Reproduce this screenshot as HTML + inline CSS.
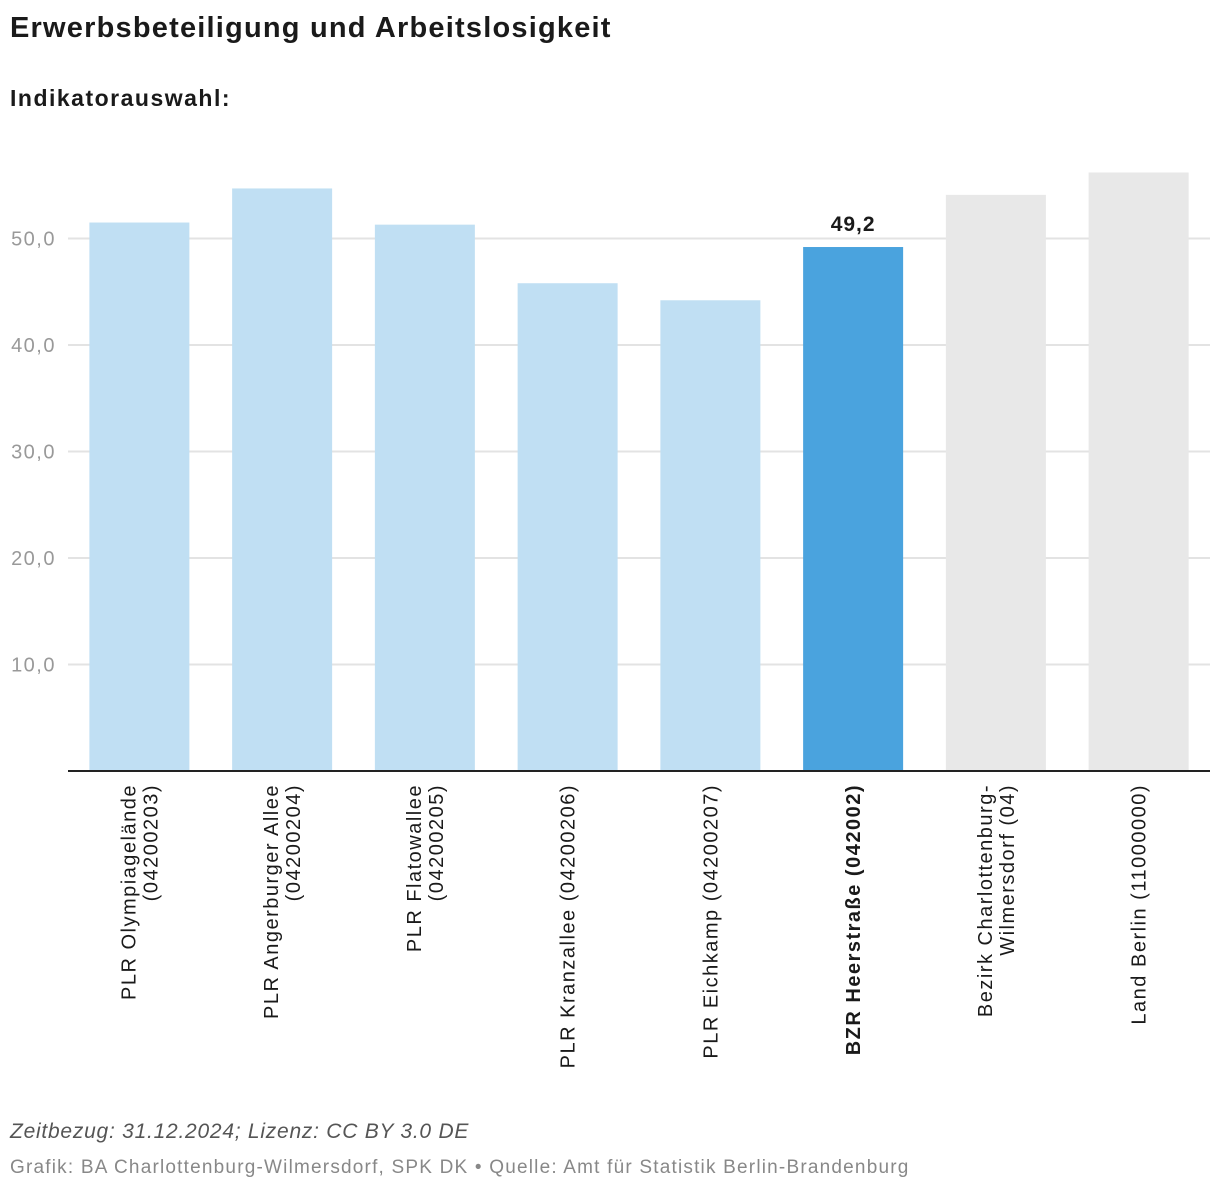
<!DOCTYPE html>
<html><head><meta charset="utf-8"><style>
body{margin:0;width:1220px;height:1194px;background:#fff;font-family:"Liberation Sans",sans-serif;overflow:hidden;position:relative}
.t{position:absolute;left:10px;margin:0}
</style></head><body>
<h1 class="t" style="top:12px;font-size:29px;font-weight:bold;color:#1a1a1a;letter-spacing:1.2px">Erwerbsbeteiligung und Arbeitslosigkeit</h1>
<div class="t" style="top:85px;font-size:23px;font-weight:bold;color:#1a1a1a;letter-spacing:1.5px">Indikatorauswahl:</div>
<svg id="c" width="1220" height="1100" style="position:absolute;left:0;top:0"></svg>
<div class="t" style="top:1120px;font-size:21px;font-style:italic;color:#555;letter-spacing:0.75px">Zeitbezug: 31.12.2024; Lizenz: CC BY 3.0 DE</div>
<div class="t" style="top:1157px;font-size:19px;color:#888;letter-spacing:1.2px">Grafik: BA Charlottenburg-Wilmersdorf, SPK DK • Quelle: Amt für Statistik Berlin-Brandenburg</div>
<script>
const categories=[["PLR Olympiagelände","(04200203)"],["PLR Angerburger Allee","(04200204)"],["PLR Flatowallee","(04200205)"],["PLR Kranzallee (04200206)"],["PLR Eichkamp (04200207)"],["BZR Heerstraße (042002)"],["Bezirk Charlottenburg-","Wilmersdorf (04)"],["Land Berlin (11000000)"]];
const values=[51.5,54.7,51.3,45.8,44.2,49.2,54.1,56.2];
const kinds=["plr","plr","plr","plr","plr","bzr","ref","ref"];
const ticks=[10,20,30,40,50];
const tickLabels=["10,0","20,0","30,0","40,0","50,0"];
const NS="http://www.w3.org/2000/svg",svg=document.getElementById('c');
const x0=68,x1=1210,y0=771,pxPer=10.65;
const y=v=>y0-v*pxPer;
const step=(x1-x0)/categories.length,bw=100;
const cx=i=>x0+step*(i+0.5);
function mk(t,a){const e=document.createElementNS(NS,t);for(const k in a)e.setAttribute(k,a[k]);svg.appendChild(e);return e;}
ticks.forEach((t,i)=>{
 const g=mk('line',{x1:x0,x2:x1,y1:y(t),y2:y(t),stroke:'#e3e3e3','stroke-width':2});
 
 
 const l=mk('text',{x:56,y:y(t)+7,'text-anchor':'end','font-size':20,fill:'#999','letter-spacing':'1.5px'});
 l.textContent=tickLabels[i];
 
 
});
const col={plr:'#c0dff3',bzr:'#4aa3de',ref:'#e8e8e8'};
values.forEach((v,i)=>{
 const r=mk('rect',{x:cx(i)-bw/2,y:y(v),width:bw,height:y0-y(v),fill:col[kinds[i]]});
 
 
 if(kinds[i]==='bzr'){
  const t=mk('text',{x:cx(i),y:y(v)-16,'text-anchor':'middle','font-size':21,'font-weight':'bold',fill:'#1a1a1a','letter-spacing':'1px'});
  t.textContent=String(v).replace('.',',');
  
  
 }
 const lines=categories[i],n=lines.length;
 lines.forEach((s,j)=>{
  const xx=cx(i)+(j-(n-1)/2)*22+7;
  const t=mk('text',{transform:`translate(${xx},784) rotate(-90)`,'text-anchor':'end','font-size':20,fill:'#1a1a1a','letter-spacing':'1.5px','font-weight':kinds[i]==='bzr'?'bold':'normal'});
  t.textContent=s;
  
  
 });
});
const ax=mk('line',{x1:x0,x2:x1,y1:y0,y2:y0,stroke:'#222','stroke-width':2});


</script>
</body></html>
